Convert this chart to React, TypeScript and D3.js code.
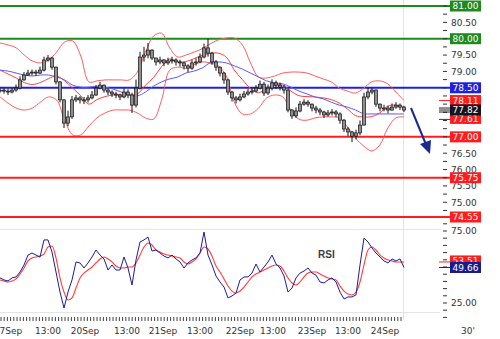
import React from 'react';
import * as d3 from 'd3';

// ---- price candles (30' bars, sampled) ----
const closes = [78.43,78.40,78.37,78.43,78.49,78.74,78.89,78.95,78.98,78.95,79.04,79.35,79.41,79.13,78.68,78.13,77.42,77.61,78.13,78.19,78.13,78.13,78.19,78.28,78.49,78.58,78.43,78.37,78.31,78.28,78.22,78.37,78.28,77.97,78.49,79.44,79.50,79.65,79.41,79.29,79.35,79.26,79.32,79.35,79.29,79.26,79.17,79.10,79.26,79.29,79.44,79.72,79.56,79.29,79.13,78.95,78.74,78.37,78.19,78.13,78.22,78.31,78.37,78.40,78.49,78.61,78.34,78.49,78.65,78.58,78.52,78.43,77.82,77.64,77.79,78.00,78.06,78.00,77.88,77.82,77.76,77.67,77.73,77.76,77.70,77.51,77.24,77.15,77.02,77.12,77.36,78.22,78.37,78.43,78.00,77.88,77.88,77.82,77.91,77.97,77.91,77.82];
const highs = [78.52,78.50,78.48,78.50,78.60,78.85,78.98,79.05,79.06,79.05,79.15,79.45,79.50,79.45,79.15,78.70,78.15,77.80,78.25,78.28,78.25,78.22,78.28,78.40,78.58,78.68,78.60,78.48,78.42,78.38,78.32,78.48,78.45,78.35,78.75,79.60,79.75,79.87,79.68,79.42,79.45,79.38,79.42,79.45,79.40,79.36,79.30,79.22,79.35,79.40,79.55,79.85,80.00,79.60,79.35,79.15,78.98,78.78,78.40,78.25,78.32,78.40,78.46,78.50,78.58,78.72,78.68,78.60,78.76,78.72,78.66,78.58,78.48,77.85,77.90,78.10,78.15,78.12,78.02,77.95,77.88,77.80,77.82,77.85,77.82,77.75,77.55,77.30,77.18,77.22,77.50,78.35,78.50,78.50,78.45,78.02,77.98,77.95,78.02,78.06,78.02,77.95];
const lows = [78.35,78.32,78.28,78.33,78.38,78.45,78.72,78.86,78.88,78.86,78.92,79.00,79.30,79.05,78.60,78.05,77.27,77.32,77.55,78.06,78.02,78.00,78.05,78.15,78.25,78.45,78.35,78.28,78.22,78.18,78.12,78.18,78.18,77.73,77.90,78.45,79.30,79.40,79.35,79.18,79.22,79.16,79.20,79.24,79.18,79.15,79.06,78.98,79.05,79.18,79.25,79.40,79.45,79.20,79.02,78.85,78.62,78.28,78.08,78.02,78.08,78.18,78.26,78.30,78.36,78.45,78.25,78.28,78.42,78.46,78.42,78.32,77.75,77.55,77.58,77.75,77.95,77.92,77.78,77.72,77.66,77.58,77.62,77.65,77.60,77.40,77.15,77.02,76.84,76.92,77.05,77.35,78.15,78.30,77.92,77.78,77.78,77.72,77.80,77.86,77.82,77.76];

// ---- Bollinger bands and moving average (sampled) ----
const upperBand = [79.87,79.81,79.72,79.50,79.32,79.26,79.35,79.59,79.90,79.93,79.47,78.68,78.71,78.74,78.74,78.74,78.74,78.98,79.59,80.08,80.17,79.72,79.44,79.50,79.59,79.69,79.84,79.96,80.02,80.02,79.81,79.26,78.83,78.80,78.86,78.95,78.98,78.98,78.95,78.86,78.77,78.68,78.49,78.40,78.34,78.49,78.68,78.71,78.62,78.37,78.11];
const midBand = [79.04,78.92,78.80,78.66,78.60,78.66,78.78,78.86,78.71,78.49,78.26,78.00,78.14,78.23,78.28,78.28,78.28,78.31,78.58,78.81,79.15,79.38,79.29,79.30,79.39,79.49,79.55,79.56,79.44,79.04,78.75,78.48,78.35,78.49,78.57,78.58,78.40,78.26,78.23,78.22,78.19,78.14,78.03,77.85,77.65,77.61,77.62,77.73,77.94,77.97,77.89];
const lowerBand = [78.22,78.03,77.88,77.82,77.88,78.06,78.22,78.13,77.51,77.06,77.06,77.33,77.58,77.73,77.82,77.82,77.82,77.73,77.58,77.54,78.13,79.04,79.13,79.10,79.20,79.29,79.26,79.17,78.86,78.06,77.70,77.70,77.88,78.19,78.28,78.22,77.82,77.54,77.51,77.58,77.61,77.61,77.58,77.30,76.96,76.72,76.57,76.75,77.27,77.58,77.61];
const slowMA = [79.04,79.01,78.95,78.89,78.86,78.89,78.89,78.83,78.74,78.58,78.52,78.52,78.55,78.52,78.46,78.37,78.28,78.25,78.37,78.55,78.68,78.77,78.83,78.95,79.01,79.10,79.26,79.29,79.26,79.17,79.07,78.95,78.83,78.71,78.65,78.62,78.52,78.40,78.31,78.22,78.16,78.06,77.97,77.91,77.82,77.71,77.70,77.70,77.70,77.70,77.70];

// ---- RSI ----
const rsi = [42.4,41.0,40.3,42.4,43.1,46.5,51.4,58.3,59.7,58.3,56.9,68.8,68.8,60.4,46.5,32.6,21.5,32.6,41.0,53.5,52.8,49.3,52.8,56.9,61.8,58.3,55.6,47.9,51.4,47.9,47.9,56.9,49.3,37.5,54.9,67.4,68.8,70.8,61.1,61.8,59.7,57.6,56.3,58.3,55.6,53.5,49.3,52.8,54.9,56.3,59.7,74.3,58.3,51.4,43.75,39.6,36.1,28.5,29.9,31.9,41.0,43.1,43.1,45.8,52.1,46.5,50.0,53.5,58.3,52.1,49.3,43.75,32.6,35.4,42.4,45.8,47.2,49.3,45.8,44.4,39.6,38.9,41.0,42.4,39.6,32.6,27.8,29.2,29.2,30.6,51.4,70.1,67.4,63.2,59.7,56.9,54.2,52.8,55.6,54.2,55.6,49.66];
const rsiSignal = [41.0,40.3,39.6,40.3,41.7,45.1,49.3,54.2,56.3,56.9,57.6,59.0,63.9,64.6,56.3,42.4,32.6,27.1,28.5,35.4,42.4,45.8,47.9,50.0,52.8,55.6,56.9,55.6,53.5,50.7,49.3,49.3,50.0,50.0,52.8,58.3,63.9,66.7,65.3,61.8,60.4,59.0,58.3,57.6,56.9,56.3,53.5,52.1,53.5,55.6,59.7,63.9,62.5,57.6,50.7,46.5,41.7,36.8,33.3,31.9,33.3,36.1,39.6,43.1,45.1,46.5,47.9,49.3,50.7,51.4,50.7,47.2,42.4,38.9,37.5,39.6,43.1,45.8,46.5,46.5,45.1,43.75,42.4,41.7,41.0,36.8,33.3,31.25,30.6,32.6,39.6,51.4,61.8,63.9,61.8,58.3,56.3,54.9,54.2,53.5,53.5,53.51];

// ---- levels and labels ----
const levelValues = [81.0, 80.0, 78.5, 77.0, 75.75, 74.55];
const levelKinds = ['res', 'res', 'pivot', 'sup', 'sup', 'sup'];
const priceTickLabels = [75.0, 75.5, 76.0, 76.5, 77.5, 78.0, 79.0, 79.5, 80.5];
const rsiTickLabels = [25, 75];
const timeLabels = ['17Sep', '13:00', '20Sep', '13:00', '21Sep', '13:00', '22Sep', '13:00', '23Sep', '13:00', '24Sep'];
const timeLabelIdx = [2, 12, 21.25, 31.75, 40.75, 50, 60, 68.25, 78, 87, 96.25];
const lastUpper = 78.11;
const lastLower = 77.61;
const lastClose = 77.82;
const lastRsi = 49.66;
const lastSignal = 53.51;

const FONT = 'DejaVu Sans, Verdana, sans-serif';
const kindColor: Record<string, string> = { res: '#1e8a1e', pivot: '#1f1fe0', sup: '#ff1c1c' };

export default function App() {
  const plotRight = 404;
  const x = d3.scaleLinear().domain([0, closes.length - 1]).range([0, plotRight]);
  const xb = d3.scaleLinear().domain([0, upperBand.length - 1]).range([0, plotRight]);
  const y = d3.scaleLinear().domain([74.55, 81]).range([217, 6]);
  const yr = d3.scaleLinear().domain([25, 75]).range([303, 231]);

  const bandLine = d3.line<number>().x((_, i) => xb(i)).y((d) => y(d)).curve(d3.curveCatmullRom);
  const rsiLine = d3.line<number>().x((_, i) => x(i)).y((d) => yr(d));
  const sigLine = d3.line<number>().x((_, i) => x(i)).y((d) => yr(d)).curve(d3.curveMonotoneX);

  const priceTicks = d3.range(74.75, 81.001, 0.25);
  const rsiTicks = d3.range(15, 81, 5);
  const timeTicks = d3.range(1, plotRight, 3.2);

  const box = (v: number, yy: number, fill: string, key: string) => (
    <g key={key}>
      <rect x={450} y={yy - 5.5} width={31} height={11} fill={fill} />
      <text x={465.5} y={yy + 3.3} fontSize={9} fill="#fff" textAnchor="middle" fontFamily={FONT}>
        {v.toFixed(2)}
      </text>
    </g>
  );

  return (
    <svg width={500} height={339} style={{ position: 'absolute', left: 0, top: 0, background: '#fff' }}
      fontFamily={FONT}>
      <rect x={0} y={0} width={500} height={339} fill="#fff" />
      {/* grid frame lines */}
      <line x1={403.5} x2={403.5} y1={0} y2={320} stroke="#e2e4ec" />
      <line x1={0} x2={440} y1={229.5} y2={229.5} stroke="#e2e4ec" />
      <line x1={0} x2={440} y1={312.5} y2={312.5} stroke="#e2e4ec" />

      {/* levels */}
      {levelValues.map((v, i) => (
        <line key={'lv' + i} x1={0} x2={450} y1={y(v)} y2={y(v)} stroke={kindColor[levelKinds[i]]} strokeWidth={2} />
      ))}

      {/* bands */}
      <path d={bandLine(upperBand) || ''} fill="none" stroke="#ff5c5c" strokeWidth={1} />
      <path d={bandLine(lowerBand) || ''} fill="none" stroke="#ff5c5c" strokeWidth={1} />
      <path d={bandLine(midBand) || ''} fill="none" stroke="#ff4040" strokeWidth={1} />
      <path d={bandLine(slowMA) || ''} fill="none" stroke="#5a5af5" strokeWidth={1} />

      {/* candles */}
      {closes.map((c, i) => {
        const o = i === 0 ? c : closes[i - 1];
        const top = y(Math.max(o, c));
        const bot = y(Math.min(o, c));
        const cx = x(i);
        return (
          <g key={'c' + i}>
            <line x1={cx} x2={cx} y1={y(highs[i])} y2={y(lows[i])} stroke="#111" strokeWidth={1} />
            <rect x={cx - 1.5} y={top} width={3} height={Math.max(bot - top, 1)} fill="#8f8f8f" stroke="#111" strokeWidth={0.7} />
          </g>
        );
      })}

      {/* RSI */}
      <path d={sigLine(rsiSignal) || ''} fill="none" stroke="#ff3b3b" strokeWidth={1.1} />
      <path d={rsiLine(rsi) || ''} fill="none" stroke="#1c1c9a" strokeWidth={1} />
      <text x={318} y={258} fontSize={10} fontWeight="bold" fill="#3a3a4a" fontFamily="Liberation Sans, Arial, sans-serif">RSI</text>

      {/* arrow */}
      <line x1={411} y1={108} x2={427} y2={147} stroke="#1a2a8c" strokeWidth={2} />
      <polygon points="420,144 431,140 430,154" fill="#1a2a8c" />

      {/* price axis */}
      {priceTicks.map((v, i) => (
        <line key={'pt' + i} x1={443} x2={447} y1={y(v)} y2={y(v)} stroke="#333" />
      ))}
      {priceTickLabels.map((v, i) => (
        <text key={'pl' + i} x={451} y={y(v) + 3.3} fontSize={9} fill="#333">{v.toFixed(2)}</text>
      ))}
      {/* rsi axis */}
      {rsiTicks.map((v, i) => (
        <line key={'rt' + i} x1={443} x2={447} y1={yr(v)} y2={yr(v)} stroke="#333" />
      ))}
      {rsiTickLabels.map((v, i) => (
        <text key={'rl' + i} x={451} y={yr(v) + 3.3} fontSize={9} fill="#333">{v.toFixed(2)}</text>
      ))}

      {/* last value markers */}
      <line x1={439} x2={450} y1={y(lastUpper)} y2={y(lastUpper)} stroke="#ff2020" />
      <line x1={439} x2={450} y1={y(lastClose) - 2} y2={y(lastClose) - 2} stroke="#222" />
      <line x1={439} x2={450} y1={y(lastClose)} y2={y(lastClose)} stroke="#222" />
      <line x1={439} x2={450} y1={y(lastClose) + 2} y2={y(lastClose) + 2} stroke="#222" />
      <line x1={439} x2={450} y1={y(lastLower) + 2.5} y2={y(lastLower) + 2.5} stroke="#2020e0" />
      <line x1={439} x2={450} y1={yr(lastSignal)} y2={yr(lastSignal)} stroke="#ff2020" />
      <line x1={439} x2={450} y1={yr(lastRsi)} y2={yr(lastRsi)} stroke="#1c1c9a" />

      {/* level boxes */}
      {levelValues.map((v, i) => box(v, y(v), kindColor[levelKinds[i]], 'b' + i))}
      {box(lastUpper, y(lastUpper), '#ff1c1c', 'bu')}
      {box(lastLower, y(lastLower) + 1.5, '#ff1c1c', 'bl')}
      {box(lastClose, y(lastClose), '#14141e', 'bc')}
      {box(lastSignal, yr(lastSignal) - 1, '#ff1c1c', 'rs')}
      {box(lastRsi, yr(lastRsi), '#1a1a8c', 'rr')}

      {/* time axis */}
      {timeTicks.map((t, i) => (
        <line key={'tt' + i} x1={t} x2={t} y1={317} y2={321} stroke="#444" strokeWidth={1} />
      ))}
      {timeLabels.map((s, i) => (
        <text key={'tl' + i} x={x(timeLabelIdx[i])} y={334} fontSize={9} fill="#333" textAnchor="middle">{s}</text>
      ))}
      <text x={468} y={334} fontSize={9} fill="#333" textAnchor="middle">30'</text>
    </svg>
  );
}
